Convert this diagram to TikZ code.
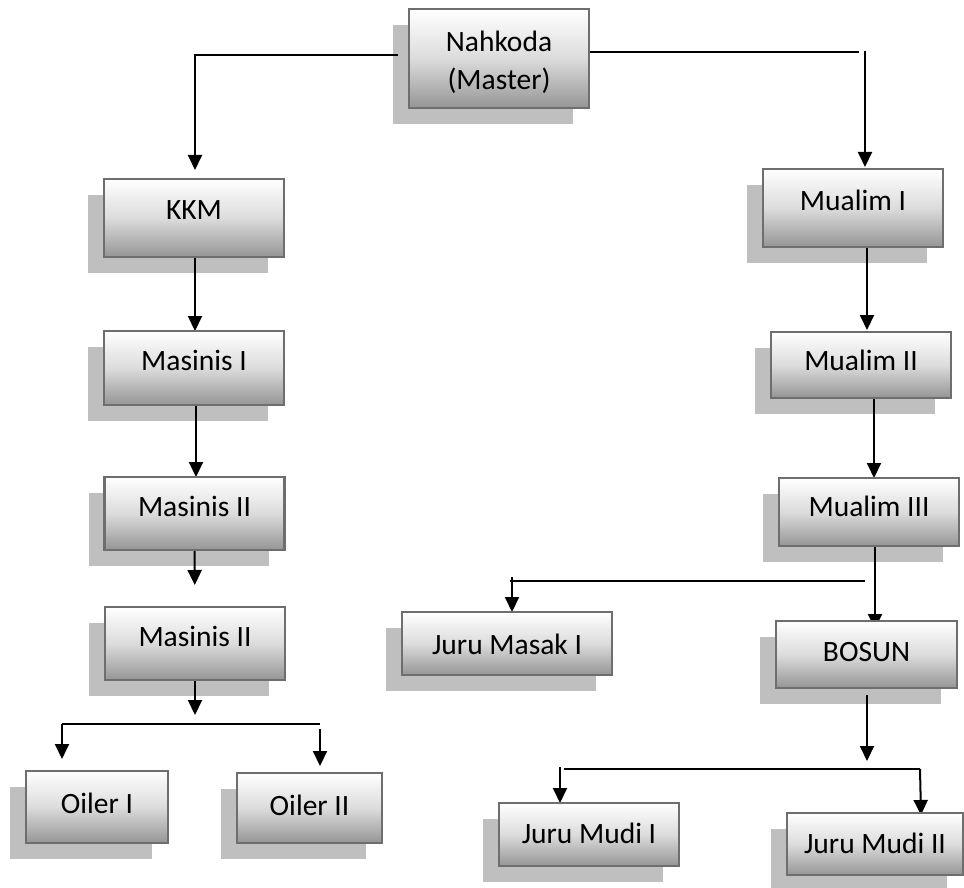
\documentclass[tikz,border=0pt]{standalone}
\usepackage{fontspec}
\setmainfont{Carlito}
\usetikzlibrary{arrows.meta,calc}

\pgfdeclarelayer{shadowlayer}
\pgfdeclarelayer{connlayer}
\pgfsetlayers{shadowlayer,connlayer,main}

\definecolor{boxline}{HTML}{6E6E6E}
\definecolor{boxshadow}{HTML}{BFBFBF}
\definecolor{boxbottom}{HTML}{959595}
\definecolor{boxmid}{HTML}{DCDCDC}

\tikzset{
  orgbox/.style={draw=boxline, line width=2.5pt,
    top color=white, bottom color=boxbottom, middle color=boxmid,
    inner sep=0pt, outer sep=0pt, anchor=north, align=center,
    font=\fontsize{29.5pt}{38pt}\selectfont},
  connline/.style={line width=2pt, black},
  arr/.style={connline, -{Triangle[length=15pt,width=14pt]}}
}

\begin{document}
\begin{tikzpicture}[x=1pt,y=-1pt]
\begin{pgfonlayer}{shadowlayer}
  \fill[white] (0,0) rectangle (964,888);
\end{pgfonlayer}
\useasboundingbox (0,0) rectangle (964,888);

% boxes: anchored at their top edge
\node[orgbox, minimum width=180pt, text height=80.4pt, text depth=18.6pt] (nah) at (499,9) {Nahkoda\\(Master)};

\node[orgbox, minimum width=180pt, text height=40.4pt, text depth=37.6pt] (kkm)  at (194,179) {KKM};
\node[orgbox, minimum width=180pt, text height=39.4pt, text depth=34.6pt] (mas1) at (194,331) {Masinis I};
\node[orgbox, minimum width=180pt, text height=39.4pt, text depth=33.6pt] (mas2) at (194.5,477) {Masinis II};
\node[orgbox, minimum width=180pt, text height=39.4pt, text depth=33.6pt] (mas3) at (195,607) {Masinis II};
\node[orgbox, minimum width=142pt, text height=42.4pt, text depth=29.6pt] (oil1) at (97,771) {Oiler I};
\node[orgbox, minimum width=145pt, text height=42.4pt, text depth=27.6pt] (oil2) at (309.5,773) {Oiler II};

\node[orgbox, minimum width=180pt, text height=41.4pt, text depth=36.6pt] (mu1) at (853,169) {Mualim I};
\node[orgbox, minimum width=180pt, text height=38.4pt, text depth=27.6pt] (mu2) at (861,332) {Mualim II};
\node[orgbox, minimum width=180pt, text height=38.4pt, text depth=29.6pt] (mu3) at (869,478) {Mualim III};
\node[orgbox, minimum width=210pt, text height=42.4pt, text depth=20.6pt] (masak) at (507,612) {Juru Masak I};
\node[orgbox, minimum width=181pt, text height=40.4pt, text depth=26.6pt] (bosun) at (866.5,621) {BOSUN};
\node[orgbox, minimum width=180pt, text height=40.4pt, text depth=22.6pt] (mudi1) at (589,803) {Juru Mudi I};
\node[orgbox, minimum width=176pt, text height=40.4pt, text depth=21.6pt] (mudi2) at (875,813) {Juru Mudi II};

% flat drop shadows, shifted down and to the left
\begin{pgfonlayer}{shadowlayer}
  \foreach \n in {nah,kkm,mas1,mas2,mas3,oil1,oil2,mu1,mu2,mu3,masak,bosun,mudi1,mudi2}
    \fill[boxshadow] ($(\n.south west)+(-16,16)$) rectangle ($(\n.north east)+(-16,16)$);
\end{pgfonlayer}

% junction points of the branching lines
\coordinate (rt)  at (859,52);
\coordinate (ol)  at (62,724);
\coordinate (or)  at (320,724);
\coordinate (ma)  at (510,581);
\coordinate (mb)  at (865,581);
\coordinate (ja)  at (564,769);
\coordinate (jb)  at (920,769);

\begin{pgfonlayer}{connlayer}
  % master to the two departments
  \draw[arr] ($(nah.west)+(-11,-3.5)$) -| ($(kkm.north)+(1,-9)$);
  \draw[connline] ($(nah.east)+(0,-6.5)$) -- (rt);
  \draw[arr] ($(mu1.north)+(12,-118)$) -- ($(mu1.north)+(12,-2)$);

  % engine department
  \draw[arr] ($(kkm.south)+(1,0)$) -- ($(mas1.north)+(1,0)$);
  \draw[arr] ($(mas1.south)+(2,0)$) -- ($(mas2.north)+(1.5,0)$);
  \draw[arr, shorten >=22pt] (mas2.south) -- (mas3.north);
  \draw[arr] (mas3.south) -- ($(mas3.south)+(0,35)$);
  \draw[connline] (ol) -- (or);
  \draw[arr] (ol) -- ($(oil1.north -| ol)+(0,-12)$);
  \draw[arr] ($(or)+(0,5)$) -- ($(oil2.north -| or)+(0,-7)$);

  % deck department
  \draw[arr] ($(mu1.south)+(14,0)$) -- ($(mu2.north)+(6,-2)$);
  \draw[arr] ($(mu2.south)+(13,0)$) -- ($(mu3.north)+(5,0)$);
  \draw[arr] ($(mu3.south)+(6,0)$) -- ($(bosun.north)+(8.5,8)$);
  \draw[connline] (ma) -- (mb);
  \draw[arr] ($(masak.north)+(5,-35)$) -- ($(masak.north)+(5,0)$);
  \draw[arr] ($(bosun.south)+(0.5,7)$) -- ($(bosun.south)+(0.5,73)$);
  \draw[connline] (ja) -- (jb);
  \draw[arr] ($(mudi1.north)+(-29,-36)$) -- ($(mudi1.north)+(-29,0)$);
  \draw[arr] (jb) -- ($(mudi2.north)+(46,2)$);
\end{pgfonlayer}
\end{tikzpicture}
\end{document}
